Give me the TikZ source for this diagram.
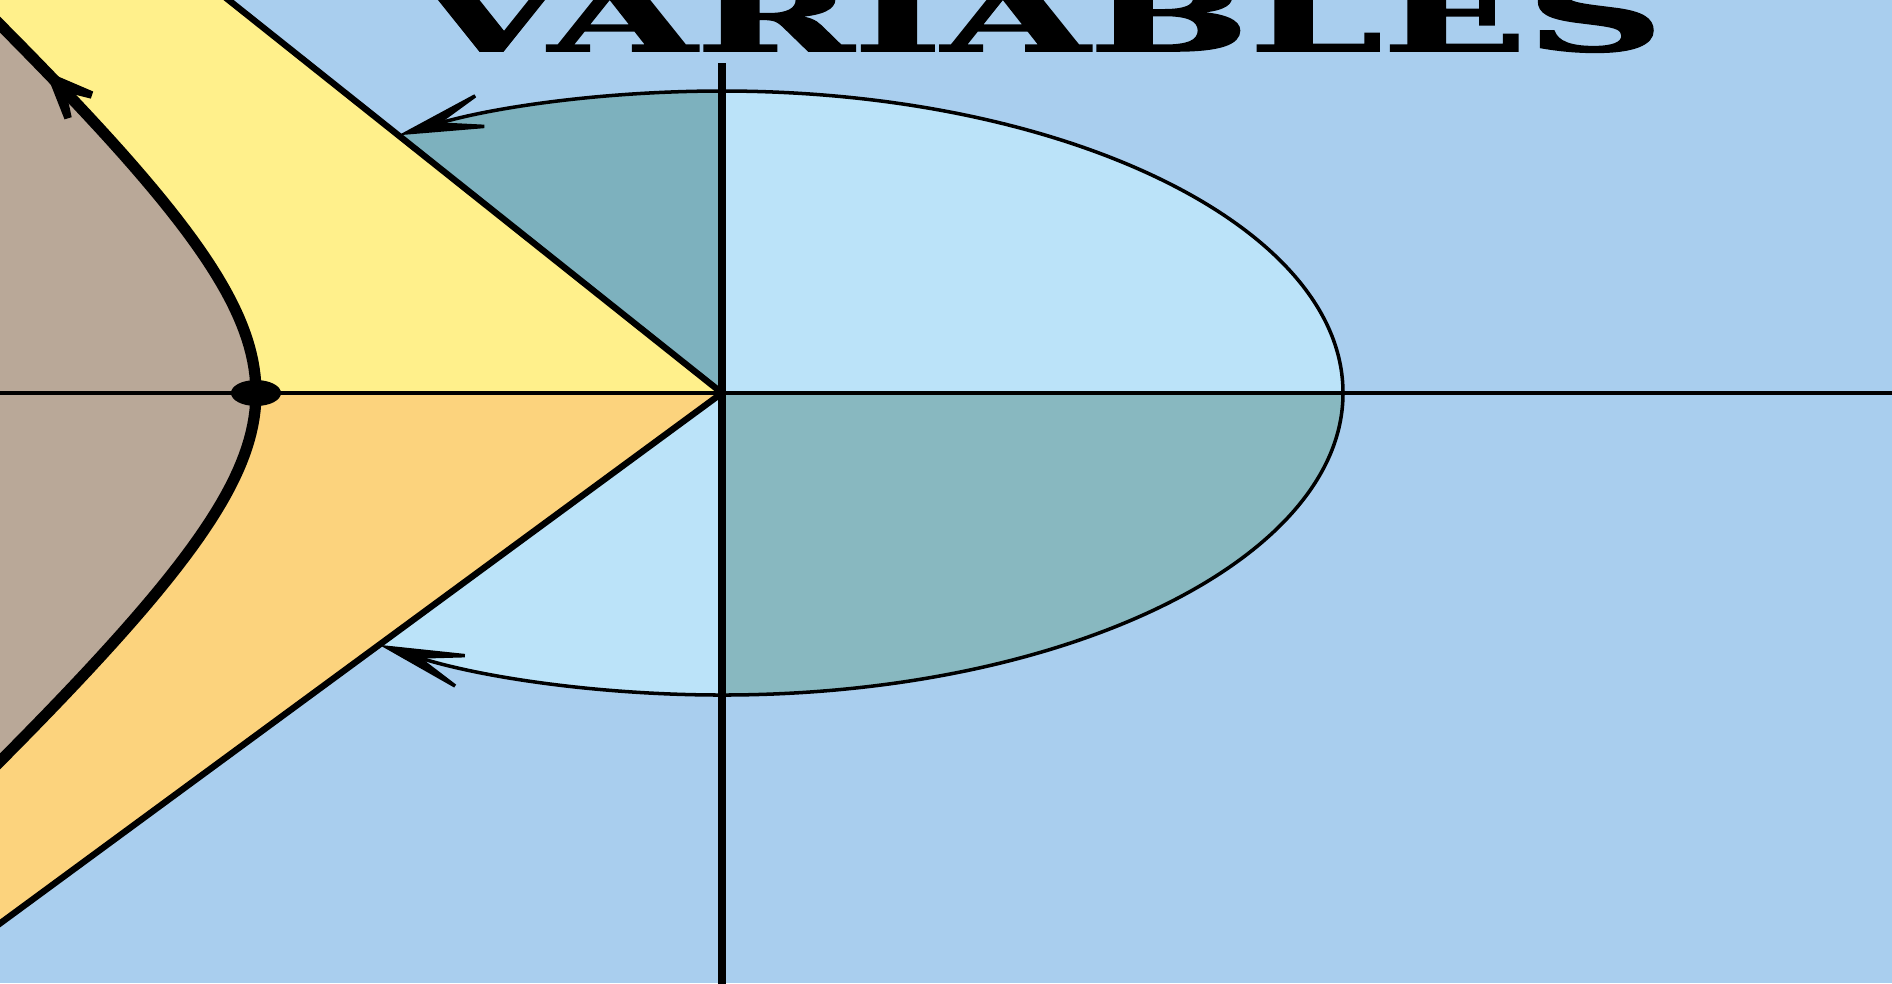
\documentclass[tikz,border=0pt]{standalone}
\usepackage{fontspec}
\usepackage{graphicx}
\usepackage{tikz}
\usetikzlibrary{arrows.meta, decorations.markings}
\newfontfamily\titlefont{DejaVu Serif}[FakeBold=1.6]

\definecolor{bgblue}{RGB}{169,206,238}
\definecolor{paleblue}{RGB}{187,227,249}
\definecolor{tealblue}{RGB}{125,177,190}
\definecolor{tealgrey}{RGB}{136,184,192}
\definecolor{sunyellow}{RGB}{255,240,139}
\definecolor{sunorange}{RGB}{252,211,125}
\definecolor{clay}{RGB}{185,168,152}

\begin{document}
\begin{tikzpicture}[x=1cm, y=1cm,
    haxis/.style={line width=1.1pt},
    vaxis/.style={line width=2.3pt},
    wedgeline/.style={line width=1.8pt},
    contour/.style={line width=1pt},
    barb/.style={-{Stealth[length=11mm, width=4.6mm, inset=6.5mm]}},
    branch/.style={line width=3.2pt, postaction={decorate},
        decoration={markings, mark=at position -1.35cm with {\arrow{Stealth[length=9mm, width=7.5mm, inset=6mm]}}}}]
    \useasboundingbox (-7.22,-5.90) rectangle (11.70,3.93);
    \clip (-7.22,-5.90) rectangle (11.70,3.93);
    \coordinate (O) at (0,0);
    \coordinate (U) at (-5.65,4.50);
    \coordinate (L) at (-7.50,-5.51);
    \coordinate (V) at (-4.66,0);
    % 背景
    \fill[bgblue] (-7.22,-5.90) rectangle (11.70,3.93);
    % 椭圆
    \fill[paleblue] (O) ellipse [x radius=6.21, y radius=3.02];
    \fill[tealblue] (O) -- (0,3.02) arc[start angle=90, end angle=180, x radius=6.21, y radius=3.02] -- cycle;
    \fill[tealgrey] (O) -- (6.21,0) arc[start angle=0, end angle=-90, x radius=6.21, y radius=3.02] -- cycle;
    \draw[contour] (0,-3.02) arc[start angle=-90, end angle=90, x radius=6.21, y radius=3.02];
    % 楔形区域
    \fill[sunyellow] (O) -- (U) -- (-7.5,4.5) -- (-7.5,0) -- cycle;
    \fill[sunorange] (O) -- (L) -- (-7.5,0) -- cycle;
    \fill[clay] plot[domain=-1.6:1.6, samples=80, variable=\t] ({-2.72-1.94*cosh(\t)}, {1.76*sinh(\t)}) -- cycle;
    \draw[wedgeline] (U) -- (O) -- (L);
    % 双曲线支
    \draw[branch] plot[domain=-1.6:1.6, samples=80, variable=\t] ({-2.72-1.94*cosh(\t)}, {1.76*sinh(\t)});
    % 箭头
    \draw[contour, barb] (0,3.02) arc[start angle=90, end angle=121.4, x radius=6.21, y radius=3.02];
    \draw[contour, barb] (0,-3.02) arc[start angle=270, end angle=236.5, x radius=6.21, y radius=3.02];
    % 坐标轴
    \draw[haxis] (-7.5,0) -- (12,0);
    \draw[vaxis] (0,3.30) -- (0,-6.2);
    \fill (V) ellipse [x radius=0.25, y radius=0.13];
    % 标题
    \node[anchor=base, inner sep=0pt] (title) at (3.18,3.42) {\resizebox{12.47cm}{0.72cm}{\titlefont\bfseries VARIABLES}};
\end{tikzpicture}
\end{document}
